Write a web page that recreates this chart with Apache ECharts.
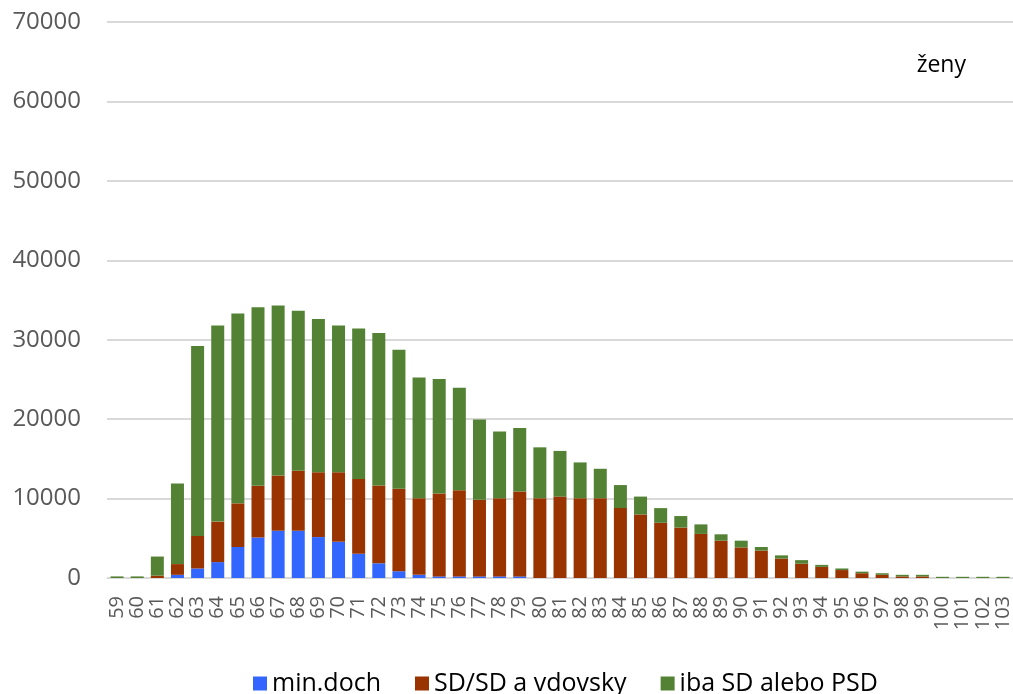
<!DOCTYPE html>
<html>
<head>
<meta charset="utf-8">
<script src="https://cdn.jsdelivr.net/npm/echarts@6/dist/echarts.min.js"></script>
<style>
  html, body { margin: 0; padding: 0; background: #ffffff; }
  #chart { width: 1013px; height: 694px; }
</style>
</head>
<body>
<div id="chart"></div>
<script>
// Age categories (years)
const ages = ['59','60','61','62','63','64','65','66','67','68','69','70','71','72','73','74','75','76','77','78','79','80','81','82','83','84','85','86','87','88','89','90','91','92','93','94','95','96','97','98','99','100','101','102','103'];

// Women by pension type, counts per age
const minDoch = [0,0,0,400,1200,2000,3900,5100,5950,5950,5150,4550,3050,1850,850,400,200,200,200,200,200,0,0,0,0,0,0,0,0,0,0,0,0,0,0,0,0,0,0,0,0,0,0,0,0];
const sdVdovsky = [0,0,300,1350,4100,5100,5500,6500,6950,7550,8150,8750,9400,9800,10400,9650,10450,10850,9650,9850,10700,10050,10250,10050,10050,8800,8000,6950,6350,5550,4700,3850,3450,2450,1800,1400,1000,600,400,200,200,0,0,0,0];
const ibaSd = [200,200,2400,10150,23900,24700,23900,22500,21400,20150,19300,18500,18950,19200,17500,15200,14400,12900,10100,8400,8000,6400,5750,4500,3700,2900,2250,1850,1450,1200,800,850,450,400,450,250,200,200,200,200,200,150,150,150,150];

const seriesNames = ['min.doch', 'SD/SD a vdovsky', 'iba SD alebo PSD'];
const seriesColors = ['#3366ff', '#993300', '#548235'];
const yTicks = { min: 0, max: 70000, interval: 10000 };

const font = '"Open Sans", sans-serif';
const chart = echarts.init(document.getElementById('chart'));

const bar = (name, data, color) => ({
  name: name,
  type: 'bar',
  stack: 'total',
  data: data,
  barWidth: 13,
  itemStyle: { color: color },
  emphasis: { disabled: true }
});

chart.setOption({
  animation: false,
  backgroundColor: '#ffffff',
  title: {
    text: 'ženy',
    right: 42,
    top: 49,
    textStyle: { fontFamily: font, fontSize: 23, fontWeight: 'normal', color: '#000000' }
  },
  legend: {
    top: 666,
    left: 248,
    itemWidth: 14,
    itemHeight: 14,
    itemGap: 34,
    icon: 'rect',
    textStyle: { fontFamily: font, fontSize: 25, color: '#000000' },
    data: seriesNames
  },
  grid: { left: 107, right: -5, top: 22, bottom: 116 },
  xAxis: {
    type: 'category',
    data: ages,
    axisLine: { lineStyle: { color: '#d9d9d9', width: 1 } },
    axisTick: { show: false },
    axisLabel: {
      rotate: 90,
      interval: 0,
      margin: 18,
      fontFamily: font,
      fontSize: 20,
      color: '#595959'
    }
  },
  yAxis: {
    type: 'value',
    min: yTicks.min,
    max: yTicks.max,
    interval: yTicks.interval,
    axisLine: { show: false },
    axisTick: { show: false },
    splitLine: { lineStyle: { color: '#d9d9d9', width: 2 } },
    axisLabel: {
      margin: 26,
      fontFamily: font,
      fontSize: 24,
      color: '#595959',
      formatter: v => String(v)
    }
  },
  series: [
    bar(seriesNames[0], minDoch, seriesColors[0]),
    bar(seriesNames[1], sdVdovsky, seriesColors[1]),
    bar(seriesNames[2], ibaSd, seriesColors[2])
  ]
});
</script>
</body>
</html>
